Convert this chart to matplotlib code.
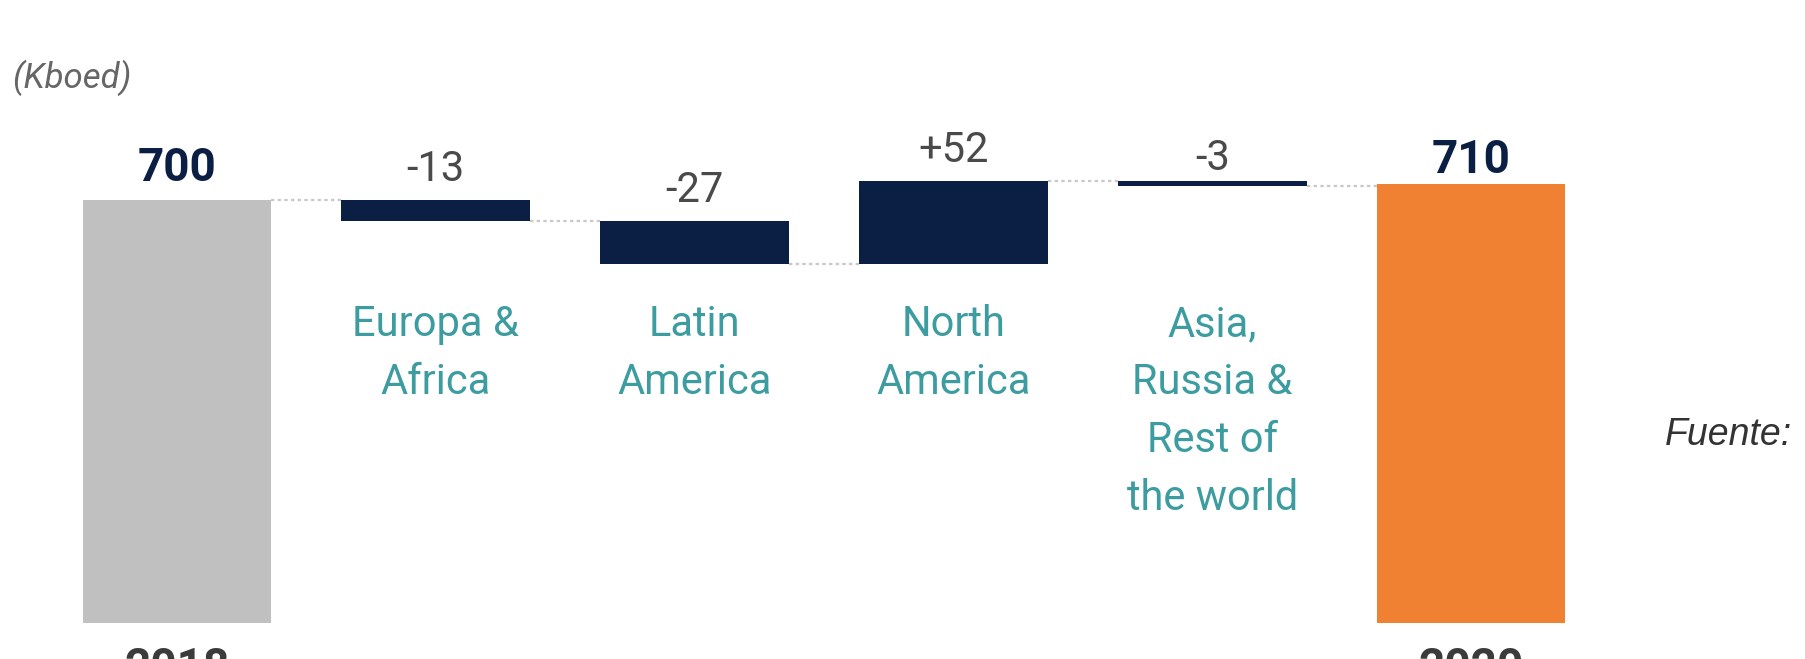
import matplotlib.pyplot as plt
import numpy as np

# data (Kboed)
start_label = "2018"
end_label = "2020"
start_value = 700
end_value = 710
regions = ["Europa &\nAfrica", "Latin\nAmerica", "North\nAmerica", "Asia,\nRussia &\nRest of\nthe world"]
changes = [-13, -27, 52, -3]

NAVY = "#0b1f44"
GREY = "#c0c0c0"
ORANGE = "#f08132"
TEAL = "#3c9ca0"

W, H = 1806, 659
fig = plt.figure(figsize=(W / 100, H / 100), dpi=100)
ax = fig.add_axes([0, 0, 1, 1])

# scale: 700 sits at pixel row 200, 1.6 px per kboed
PX_PER_UNIT = 1.6
def px2val(py):
    return start_value - (py - 200) / PX_PER_UNIT

x0_px, step_px = 177, 258.8
ax.set_xlim(-x0_px / step_px, (W - x0_px) / step_px)
ax.set_ylim(px2val(H), px2val(0))
ax.axis("off")

base = px2val(623)
width = 0.73
n = len(changes)
xs = np.arange(n + 2)

# running levels
levels = [start_value]
for c in changes:
    levels.append(levels[-1] + c)

# totals
ax.bar(xs[0], start_value - base, bottom=base, width=width, color=GREY)
ax.bar(xs[-1], end_value - base, bottom=base, width=width, color=ORANGE)

# steps
for i, c in enumerate(changes):
    lo = min(levels[i], levels[i + 1])
    ax.bar(xs[i + 1], abs(c), bottom=lo, width=width, color=NAVY)

# dotted connectors
for i in range(n + 1):
    y = levels[i]
    ax.plot([xs[i] + width / 2, xs[i + 1] - width / 2], [y, y],
            color="#c8c8c8", lw=1.6, ls=(0, (1.5, 1.5)))

gap = 12
# total labels
ax.text(xs[0], start_value + gap, str(start_value), ha="center", va="baseline",
        fontsize=33, fontweight="bold", color=NAVY, family="Roboto")
ax.text(xs[-1], end_value + 7, str(end_value), ha="center", va="baseline",
        fontsize=33, fontweight="bold", color=NAVY, family="Roboto")

# change labels and region names
for i, c in enumerate(changes):
    top = max(levels[i], levels[i + 1])
    lab = f"+{c}" if c > 0 else str(c)
    g = gap if abs(c) > 5 else 7
    ax.text(xs[i + 1], top + g, lab, ha="center", va="baseline",
            fontsize=30, color="#4a4a4a", family="Roboto")
    ax.text(xs[i + 1], px2val(304), regions[i], ha="center", va="top",
            fontsize=30, color=TEAL, family="Roboto", linespacing=1.53)

# year labels (cut by the bottom edge)
ax.text(xs[0], px2val(646), start_label, ha="center", va="top",
        fontsize=33, fontweight="bold", color="#3b3b3b", family="Roboto")
ax.text(xs[-1], px2val(646), end_label, ha="center", va="top",
        fontsize=33, fontweight="bold", color="#3b3b3b", family="Roboto")

fig.text(12 / W, 1 - 78 / H, "(Kboed)", ha="left", va="center",
         fontsize=25, style="italic", color="#666666", family="Roboto")
fig.text(1665 / W, 1 - 445 / H, "Fuente:", ha="left", va="baseline",
         fontsize=27, style="italic", color="#333333", family="Liberation Sans")

fig.savefig("out.png", dpi=100)
